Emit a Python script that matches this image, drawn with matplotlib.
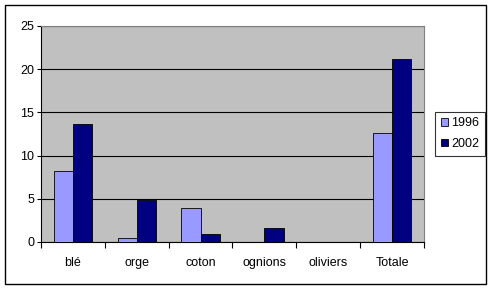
import numpy as np
import matplotlib.pyplot as plt
from matplotlib.patches import Rectangle

# Données
categories = ["blé", "orge", "coton", "ognions", "oliviers", "Totale"]
values_1996 = [8.2, 0.5, 3.9, 0, 0, 12.6]
values_2002 = [13.7, 4.9, 0.9, 1.6, 0, 21.2]
series_labels = ["1996", "2002"]
y_ticks = [0, 5, 10, 15, 20, 25]

plt.rcParams["font.family"] = ["Liberation Sans", "DejaVu Sans"]

W, H = 492, 288
fig = plt.figure(figsize=(W / 100, H / 100), dpi=100)
fig.patch.set_facecolor("white")

# Cadre extérieur du graphique
fig.patches.append(Rectangle((5 / W, 1 - 284 / H), 481 / W, 279 / H,
                             transform=fig.transFigure, fill=False,
                             edgecolor="black", linewidth=1))

# Zone de tracé
left, right, top, bottom = 41, 424, 26, 242
ax = fig.add_axes([left / W, 1 - bottom / H, (right - left) / W, (bottom - top) / H])
ax.set_facecolor("#C0C0C0")

x = np.arange(len(categories))
bw = 0.3
ax.bar(x - bw / 2, values_1996, bw, color="#9999FF", edgecolor="black",
       linewidth=0.6, label=series_labels[0], zorder=3)
ax.bar(x + bw / 2, values_2002, bw, color="#000080", edgecolor="black",
       linewidth=0.6, label=series_labels[1], zorder=3)

ax.set_xlim(-0.5, len(categories) - 0.5)
ax.set_ylim(0, 25)
ax.set_yticks(y_ticks)
ax.set_yticklabels([str(v) for v in y_ticks], fontsize=9)
ax.yaxis.grid(True, color="black", linewidth=0.8, zorder=1)
ax.set_axisbelow(True)

# Graduations de l'axe des x entre les catégories
ax.set_xticks(np.arange(len(categories) + 1) - 0.5)
ax.set_xticklabels([])
ax.set_xticks(x, minor=True)
ax.set_xticklabels(categories, minor=True, fontsize=9)
ax.tick_params(axis="x", which="major", length=4, direction="out", width=0.8)
ax.tick_params(axis="x", which="minor", length=0, pad=11)
ax.tick_params(axis="y", length=3, direction="out", width=0.8, pad=2)

for side in ["top", "right"]:
    ax.spines[side].set_color("#808080")
    ax.spines[side].set_linewidth(0.8)
for side in ["left", "bottom"]:
    ax.spines[side].set_color("black")
    ax.spines[side].set_linewidth(0.8)

leg = fig.legend(loc="center left", bbox_to_anchor=(435 / W, 1 - 133.5 / H),
                 fontsize=9, frameon=True, fancybox=False, edgecolor="black",
                 handlelength=0.6, handleheight=0.6, handletextpad=0.25,
                 borderpad=0.45, labelspacing=0.7, borderaxespad=0)
leg.get_frame().set_linewidth(0.8)

fig.savefig("out.png", dpi=100)
